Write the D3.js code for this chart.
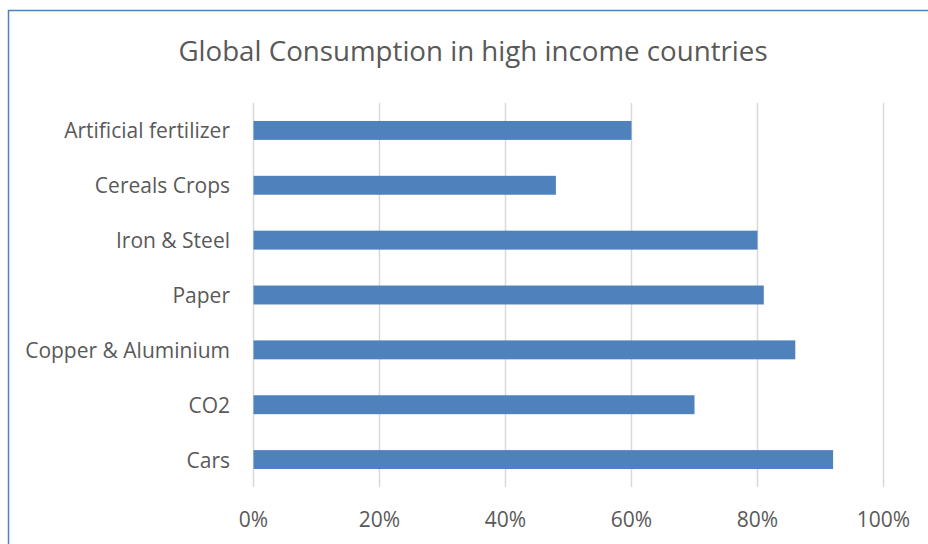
<!DOCTYPE html>
<html>
<head>
<meta charset="utf-8">
<script src="https://cdn.jsdelivr.net/npm/d3@7"></script>
<style>
  body { margin: 0; background: #fff; }
  text { font-family: "Open Sans", "Noto Sans", sans-serif; fill: #595959; }
</style>
</head>
<body>
<svg id="canvas" width="928" height="544"></svg>
<script>
var categories = ['Artificial fertilizer', 'Cereals Crops', 'Iron & Steel', 'Paper', 'Copper & Aluminium', 'CO2', 'Cars'];
var values = [0.60, 0.48, 0.80, 0.81, 0.86, 0.70, 0.92];
var ticks = [0, 0.2, 0.4, 0.6, 0.8, 1.0];
var title = 'Global Consumption in high income countries';

var svg = d3.select('#canvas');

// chart frame
svg.append('rect')
  .attr('x', 8.5).attr('y', 10.5)
  .attr('width', 940).attr('height', 560)
  .attr('fill', 'none')
  .attr('stroke', '#4f81bd')
  .attr('stroke-width', 1.5);

var x = d3.scaleLinear().domain([0, 1]).range([253.5, 883.5]);
var y = d3.scaleBand().domain(categories).range([103, 487])
  .paddingInner(0.655).paddingOuter(0.3275);

svg.append('text')
  .attr('x', 473).attr('y', 61)
  .attr('text-anchor', 'middle')
  .style('font-size', '27.7px')
  .text(title);

// gridlines
svg.append('g').selectAll('line')
  .data(ticks)
  .join('line')
  .attr('x1', function(d) { return x(d); })
  .attr('x2', function(d) { return x(d); })
  .attr('y1', 103).attr('y2', 487)
  .attr('stroke', '#d9d9d9')
  .attr('stroke-width', 1.5);

svg.append('g').selectAll('rect')
  .data(values)
  .join('rect')
  .attr('x', x(0))
  .attr('y', function(d, i) { return y(categories[i]); })
  .attr('width', function(d) { return x(d) - x(0); })
  .attr('height', y.bandwidth())
  .attr('fill', '#4f81bd');

// x tick labels
svg.append('g').selectAll('text')
  .data(ticks)
  .join('text')
  .attr('x', function(d) { return x(d); })
  .attr('y', 527)
  .attr('text-anchor', 'middle')
  .style('font-size', '21px')
  .text(d3.format('.0%'));

// category labels
svg.append('g').selectAll('text')
  .data(categories)
  .join('text')
  .attr('x', 230)
  .attr('y', function(d) { return y(d) + y.bandwidth() / 2; })
  .attr('dy', '0.38em')
  .attr('text-anchor', 'end')
  .style('font-size', '21px')
  .text(function(d) { return d; });
</script>
</body>
</html>
